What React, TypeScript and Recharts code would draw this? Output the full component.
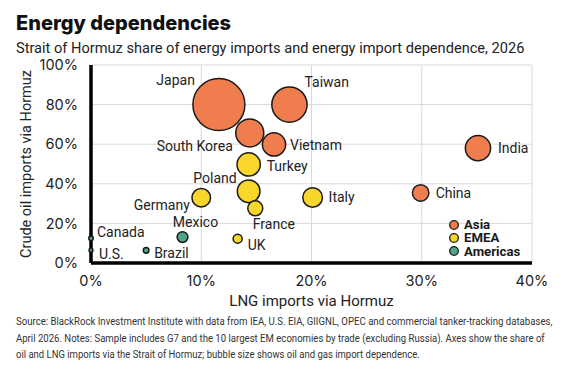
import { ScatterChart, Scatter, XAxis, YAxis, ZAxis, CartesianGrid, Legend } from 'recharts';

// countries, in drawing order (later ones sit on top)
const COUNTRIES = ['Japan', 'Taiwan', 'South Korea', 'Vietnam', 'India', 'China', 'Turkey', 'Poland', 'Germany', 'France', 'Italy', 'UK', 'Mexico', 'Brazil', 'Canada', 'U.S.'];
const COUNTRY_REGION = ['Asia', 'Asia', 'Asia', 'Asia', 'Asia', 'Asia', 'EMEA', 'EMEA', 'EMEA', 'EMEA', 'EMEA', 'EMEA', 'Americas', 'Americas', 'Americas', 'Americas'];
// LNG imports via Hormuz, %
const LNG_SHARE = [11.6, 18.0, 14.4, 16.6, 35.1, 29.9, 14.3, 14.3, 10.0, 14.9, 20.1, 13.3, 8.3, 5.0, 0, 0];
// crude oil imports via Hormuz, %
const CRUDE_SHARE = [80, 80, 65.7, 59.9, 58, 35.4, 49.8, 36.2, 33, 27.6, 33.1, 12.3, 13.1, 6.4, 12.5, 6.5];
// oil and gas import dependence (bubble area), index
const DEPENDENCE = [100, 46, 29, 20, 23.5, 10, 20, 19, 12.7, 8.3, 14.2, 3, 4.3, 1.2, 0.75, 0.55];

const REGIONS = ['Asia', 'EMEA', 'Americas'];
const REGION_COLORS = ['#F07D4E', '#F8D62A', '#4FA585'];

const X_TICKS = [0, 10, 20, 30, 40];
const Y_TICKS = [0, 20, 40, 60, 80, 100];

const FOOTNOTE = [
  'Source: BlackRock Investment Institute with data from IEA, U.S. EIA, GIIGNL, OPEC and commercial tanker-tracking databases,',
  'April 2026. Notes: Sample includes G7 and the 10 largest EM economies by trade (excluding Russia). Axes show the share of',
  'oil and LNG imports via the Strait of Hormuz; bubble size shows oil and gas import dependence.',
];
// the source uses a condensed face; fit each line to the width it has there
const FOOTNOTE_WIDTHS = [537, 529, 404];

// where each country's name sits relative to its bubble: [dx, dy, anchor]
const LABEL_PLACEMENT: Record<string, [number, number, 'start' | 'middle' | 'end']> = {
  Japan: [-24, -25, 'end'],
  Taiwan: [15, -23, 'start'],
  'South Korea': [-17, 13, 'end'],
  Vietnam: [16, 1, 'start'],
  India: [20, 0, 'start'],
  China: [15, 0, 'start'],
  Turkey: [18, 2, 'start'],
  Poland: [-12, -13, 'end'],
  Germany: [-11.5, 7, 'end'],
  France: [-2.5, 16, 'start'],
  Italy: [16, 0, 'start'],
  UK: [10, 6, 'start'],
  Mexico: [13, -15, 'middle'],
  Brazil: [8, 3, 'start'],
  Canada: [6, -6, 'start'],
  'U.S.': [8, 4, 'start'],
};

const points = COUNTRIES.map((name, i) => ({
  name,
  region: COUNTRY_REGION[i],
  x: LNG_SHARE[i],
  y: CRUDE_SHARE[i],
  z: DEPENDENCE[i],
}));

const FONT = 'Roboto, "Noto Sans", sans-serif';
const TICK_FONT = 'Inter, Roboto, sans-serif';
const NOTE_SIZE = 10;
const NOTE_STRETCH_Y = 1.15;

let measureCtx: CanvasRenderingContext2D | null = null;
function textWidth(text: string) {
  if (!measureCtx) measureCtx = document.createElement('canvas').getContext('2d');
  if (!measureCtx) return text.length * NOTE_SIZE * 0.5;
  measureCtx.font = `${NOTE_SIZE}px Roboto`;
  return measureCtx.measureText(text).width;
}

const Bubble = (props: any) => {
  const { cx, cy, width, size, fill } = props;
  const r = width ? width / 2 : Math.sqrt((size || 0) / Math.PI);
  return <circle cx={cx} cy={cy} r={r} fill={fill} stroke="#1a1a1a" strokeWidth={1.5} />;
};

const CountryLabel = (props: any) => {
  const { cx, cy, payload } = props;
  const [dx, dy, anchor] = LABEL_PLACEMENT[payload.name];
  return (
    <text x={cx + dx} y={cy + dy} dy="0.35em" textAnchor={anchor} fontSize={14} fill="#222" fontFamily={FONT}>
      {payload.name}
    </text>
  );
};

const RegionLegend = () => (
  <div style={{ fontFamily: FONT, fontWeight: 700, fontSize: 13.2, color: '#1a1a1a' }}>
    {REGIONS.map((region, i) => (
      <div key={region} style={{ display: 'flex', alignItems: 'center', height: 13.4, overflow: 'visible' }}>
        <svg width={12} height={12} style={{ marginRight: 4 }}>
          <circle cx={6} cy={6} r={4.3} fill={REGION_COLORS[i]} stroke="#1a1a1a" strokeWidth={1.3} />
        </svg>
        <span style={{ display: 'inline-block', height: 13.4, lineHeight: '13.4px' }}>{region}</span>
      </div>
    ))}
  </div>
);

export default function App() {
  return (
    <div style={{ position: 'absolute', left: 0, top: 0, width: 562, height: 376, background: '#fff', fontFamily: FONT }}>
      <div style={{ position: 'absolute', left: 16, top: 13, fontFamily: 'Inter, sans-serif', fontWeight: 800, fontSize: 20, lineHeight: '20px', color: '#111', whiteSpace: 'nowrap' }}>
        Energy dependencies
      </div>
      <div style={{ position: 'absolute', left: 16, top: 41, fontSize: 14.6, lineHeight: '14.6px', color: '#222', whiteSpace: 'nowrap' }}>
        Strait of Hormuz share of energy imports and energy import dependence, 2026
      </div>
      <ScatterChart width={562} height={376} margin={{ top: 65, right: 30, left: 16, bottom: 68 }}>
        <CartesianGrid stroke="#d9d9d9" strokeWidth={1} />
        <XAxis
          type="number"
          dataKey="x"
          domain={[0, 40]}
          ticks={X_TICKS}
          interval={0}
          tickFormatter={(v) => `${v}%`}
          tickLine={false}
          tickSize={0}
          tickMargin={13}
          height={45}
          axisLine={{ stroke: '#000', strokeWidth: 3.5 }}
          tick={{ fontSize: 14.5, fill: '#222', fontFamily: TICK_FONT }}
          label={{ value: 'LNG imports via Hormuz', position: 'insideBottom', offset: 2, fontSize: 15, fill: '#222', fontFamily: FONT }}
        />
        <YAxis
          type="number"
          dataKey="y"
          domain={[0, 100]}
          ticks={Y_TICKS}
          interval={0}
          tickFormatter={(v) => `${v}%`}
          tickLine={false}
          tickSize={0}
          tickMargin={13}
          width={75}
          axisLine={{ stroke: '#000', strokeWidth: 3.5 }}
          tick={{ fontSize: 14.5, fill: '#222', fontFamily: TICK_FONT }}
          label={{ value: 'Crude oil imports via Hormuz', angle: -90, position: 'insideLeft', offset: 10, fontSize: 14.5, fill: '#222', fontFamily: FONT, style: { textAnchor: 'middle' } }}
        />
        <ZAxis type="number" dataKey="z" domain={[0, 100]} range={[0, 2124]} />
        {REGIONS.map((region, i) => (
          <Scatter
            key={region}
            name={region}
            data={points.filter((p) => p.region === region)}
            fill={REGION_COLORS[i]}
            shape={Bubble}
            isAnimationActive={false}
          />
        ))}
        <Scatter name="labels" data={points} shape={CountryLabel} legendType="none" isAnimationActive={false} />
        <Legend
          layout="vertical"
          align="center"
          verticalAlign="middle"
          content={RegionLegend}
          wrapperStyle={{ left: 448, top: 218, width: 100, height: 'auto' }}
        />
      </ScatterChart>
      <svg width={562} height={60} style={{ position: 'absolute', left: 0, top: 316 }}>
        {FOOTNOTE.map((line, i) => {
          const sx = FOOTNOTE_WIDTHS[i] / textWidth(line);
          return (
            <text
              key={i}
              transform={`translate(16, ${9 + i * 16.5}) scale(${sx}, ${NOTE_STRETCH_Y})`}
              fontSize={NOTE_SIZE}
              fontFamily="Roboto"
              fill="#333"
            >
              {line}
            </text>
          );
        })}
      </svg>
    </div>
  );
}
